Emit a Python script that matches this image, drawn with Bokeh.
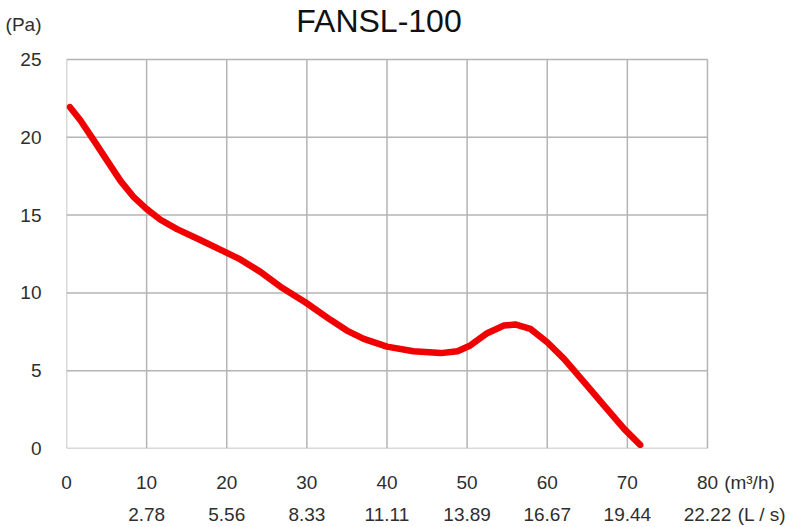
from bokeh.plotting import figure
from bokeh.models import LinearAxis, FixedTicker, Label, Range1d
from bokeh.embed import file_html
from bokeh.resources import INLINE

# ---- data ----
flow_m3h = [0.42, 1.75, 3.41, 5.07, 6.74, 8.40, 9.98, 11.73, 13.8, 16.7, 19.9,
            21.7, 24.2, 26.7, 29.8, 32.95, 35.0, 37.1, 40.0, 43.3, 46.7, 48.8,
            50.4, 52.5, 54.6, 56.0, 57.9, 60.0, 62.1, 64.6, 67.1, 69.6, 71.6]
pressure_pa = [21.94, 21.08, 19.8, 18.5, 17.2, 16.15, 15.4, 14.7, 14.1, 13.4,
               12.6, 12.15, 11.35, 10.4, 9.4, 8.27, 7.58, 7.05, 6.55, 6.25,
               6.13, 6.25, 6.62, 7.41, 7.9, 7.97, 7.69, 6.83, 5.76, 4.26, 2.76,
               1.26, 0.23]
m3h_ticks = [0, 10, 20, 30, 40, 50, 60, 70, 80]
ls_ticks = [10, 20, 30, 40, 50, 60, 70, 80]
ls_labels = ["2.78", "5.56", "8.33", "11.11", "13.89", "16.67", "19.44", "22.22"]
pa_ticks = [0, 5, 10, 15, 20, 25]
title_text = "FANSL-100"
y_unit = "(Pa)"
x_unit1 = "(m\u00b3/h)"
x_unit2 = "(L / s)"
# where the unit captions sit, in axis units
y_unit_at = 27.22
x_unit1_at = 85.24
x_unit2_at = 86.8

FONT = "Liberation Sans"
TXT = "#2e2e2e"
GRID = "#b4b4b4"

# frame reaches the top and right edges; the grid is drawn over the data box only
p = figure(width=802, height=527, output_backend="svg", toolbar_location=None,
           x_range=Range1d(0, 91.86), y_range=Range1d(0, 28.79),
           min_border_left=66, min_border_right=0, min_border_top=0,
           min_border_bottom=79, x_axis_location=None, y_axis_location=None)
p.outline_line_color = None
p.background_fill_color = "white"
p.border_fill_color = "white"
p.xgrid.visible = False
p.ygrid.visible = False

yax = LinearAxis(ticker=FixedTicker(ticks=pa_ticks + [y_unit_at]),
                 major_label_overrides={y_unit_at: y_unit})
xax1 = LinearAxis(ticker=FixedTicker(ticks=m3h_ticks + [x_unit1_at]),
                  major_label_overrides={x_unit1_at: x_unit1})
ov2 = {t: l for t, l in zip(ls_ticks, ls_labels)}
ov2[x_unit2_at] = x_unit2
xax2 = LinearAxis(ticker=FixedTicker(ticks=ls_ticks + [x_unit2_at]),
                  major_label_overrides=ov2)
for ax in (yax, xax1, xax2):
    ax.axis_line_color = None
    ax.major_tick_line_color = None
    ax.minor_tick_line_color = None
    ax.major_tick_out = 0
    ax.major_tick_in = 0
    ax.major_label_text_font = FONT
    ax.major_label_text_font_size = "19px"
    ax.major_label_text_color = TXT
yax.major_label_standoff = 25
xax1.major_label_standoff = 23
xax2.major_label_standoff = 8
p.add_layout(yax, "left")
p.add_layout(xax1, "below")
p.add_layout(xax2, "below")

# grid lines from the tick lists
n_v = len(m3h_ticks)
n_h = len(pa_ticks)
p.segment(x0=m3h_ticks, x1=m3h_ticks, y0=[pa_ticks[0]] * n_v, y1=[pa_ticks[-1]] * n_v,
          line_color=GRID, line_width=1.5)
p.segment(x0=[m3h_ticks[0]] * n_h, x1=[m3h_ticks[-1]] * n_h, y0=pa_ticks, y1=pa_ticks,
          line_color=GRID, line_width=1.5)

p.line(flow_m3h, pressure_pa, line_color="#f00000", line_width=6.5,
       line_cap="round", line_join="round")

p.add_layout(Label(x=0, y=25, x_offset=312.5, y_offset=38, text=title_text,
                   text_font=FONT, text_font_size="32px", text_color="#111111",
                   text_align="center", text_baseline="middle"))

open("out.html", "w").write(file_html(p, INLINE))
